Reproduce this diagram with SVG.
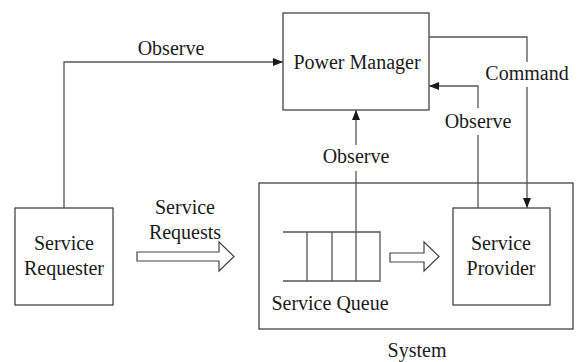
<svg xmlns="http://www.w3.org/2000/svg" width="578" height="362" viewBox="0 0 578 362" font-family="'Liberation Serif', 'DejaVu Serif', serif">
<style>
.box{fill:#fff;stroke:#444;stroke-width:1.3}
.ln{fill:none;stroke:#555;stroke-width:1.3}
.hol{fill:#fff;stroke:#444;stroke-width:1.2;stroke-linejoin:miter}
.t{font-family:'Liberation Serif','DejaVu Serif',serif;font-size:20px;fill:#1a1a1a;text-anchor:middle}
</style>
<defs>
<marker id="ah" markerWidth="10" markerHeight="8" refX="10" refY="4" orient="auto" markerUnits="userSpaceOnUse">
<path d="M0,0 L10,4 L0,8 Z" fill="#1a1a1a"/>
</marker>
</defs>
<rect x="0" y="0" width="578" height="362" fill="#fff"/>
<g id="system">
<rect class="box" x="259" y="183" width="314" height="146"/>
<text class="t" x="417" y="357">System</text>
</g>
<g id="power-manager">
<rect class="box" x="283" y="13" width="146" height="97"/>
<text class="t" x="357" y="69">Power Manager</text>
</g>
<g id="service-requester">
<rect class="box" x="15" y="208" width="98" height="97"/>
<text class="t" x="64" y="250">Service</text>
<text class="t" x="64" y="275">Requester</text>
</g>
<g id="service-queue">
<path class="ln" d="M283,232 H380 V281 H283 M307,232 V281 M332,232 V281 M356,232 V281"/>
<text class="t" x="330" y="310">Service Queue</text>
</g>
<g id="service-provider">
<rect class="box" x="453" y="208" width="97" height="97"/>
<text class="t" x="501" y="250">Service</text>
<text class="t" x="501" y="275">Provider</text>
</g>
<g id="connectors">
<path class="ln" d="M64,208 V62 H283" marker-end="url(#ah)"/>
<text class="t" x="171" y="55">Observe</text>
<path class="ln" d="M356,232 V171"/>
<path class="ln" d="M356,145 V110" marker-end="url(#ah)"/>
<text class="t" x="356" y="163">Observe</text>
<path class="ln" d="M478,208 V135"/>
<path class="ln" d="M478,108 V86 H429" marker-end="url(#ah)"/>
<text class="t" x="478" y="128">Observe</text>
<path class="ln" d="M429,37 H527 V62"/>
<path class="ln" d="M527,87 V208" marker-end="url(#ah)"/>
<text class="t" x="527" y="80">Command</text>
<path class="hol" d="M137,252 H219 V242 L234,256.5 L219,271 V261 H137 Z"/>
<text class="t" x="185" y="214">Service</text>
<text class="t" x="185" y="239">Requests</text>
<path class="hol" d="M390,253 H424 V242 L439,256.5 L424,271 V262 H390 Z"/>
</g>
</svg>
